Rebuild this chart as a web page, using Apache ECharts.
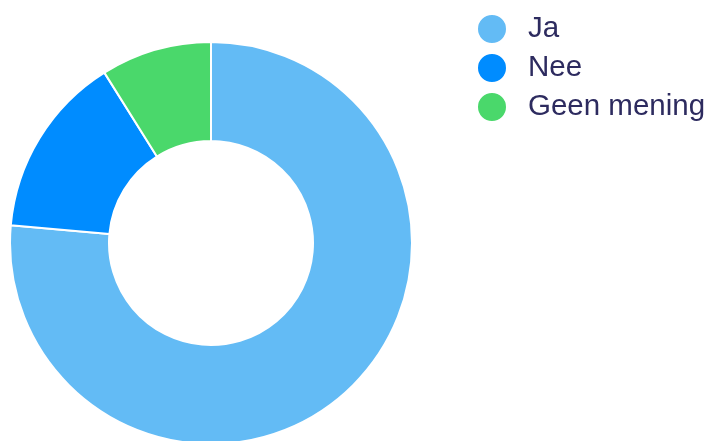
<!DOCTYPE html>
<html>
<head>
<meta charset="utf-8">
<script src="https://cdn.jsdelivr.net/npm/echarts@6/dist/echarts.min.js"></script>
<style>
  html, body { margin: 0; padding: 0; background: #fff; }
  #myChart { width: 707px; height: 441px; }
</style>
</head>
<body>
<div id="myChart"></div>
<script>
var categories = ['Ja', 'Nee', 'Geen mening'];
var values = [76.4, 14.7, 8.9];
var colors = ['#63bbf5', '#008cff', '#4ad86b'];

var chartData = categories.map(function(name, i){
	return { name: name, value: values[i], itemStyle: { color: colors[i] } };
});

var option = {
	animation: false,
	legend: {
		orient: 'vertical',
		left: 471,
		top: 8,
		icon: 'circle',
		itemWidth: 30,
		itemHeight: 30,
		itemGap: 7,
		textStyle: {
			fontFamily: 'Liberation Sans',
			fontSize: 29.5,
			color: '#2d2b5f',
			padding: [0, 0, 0, 16]
		},
		data: categories
	},
	series: [
		{
			name: 'Antwoord',
			type: 'pie',
			center: [211, 243],
			radius: [102, 201],
			startAngle: 90,
			clockwise: true,
			label: { show: false },
			labelLine: { show: false },
			itemStyle: { borderColor: '#fff', borderWidth: 2 },
			data: chartData
		}
	]
};
var myChart = echarts.init(document.getElementById('myChart'));
myChart.setOption(option);
</script>
</body>
</html>
